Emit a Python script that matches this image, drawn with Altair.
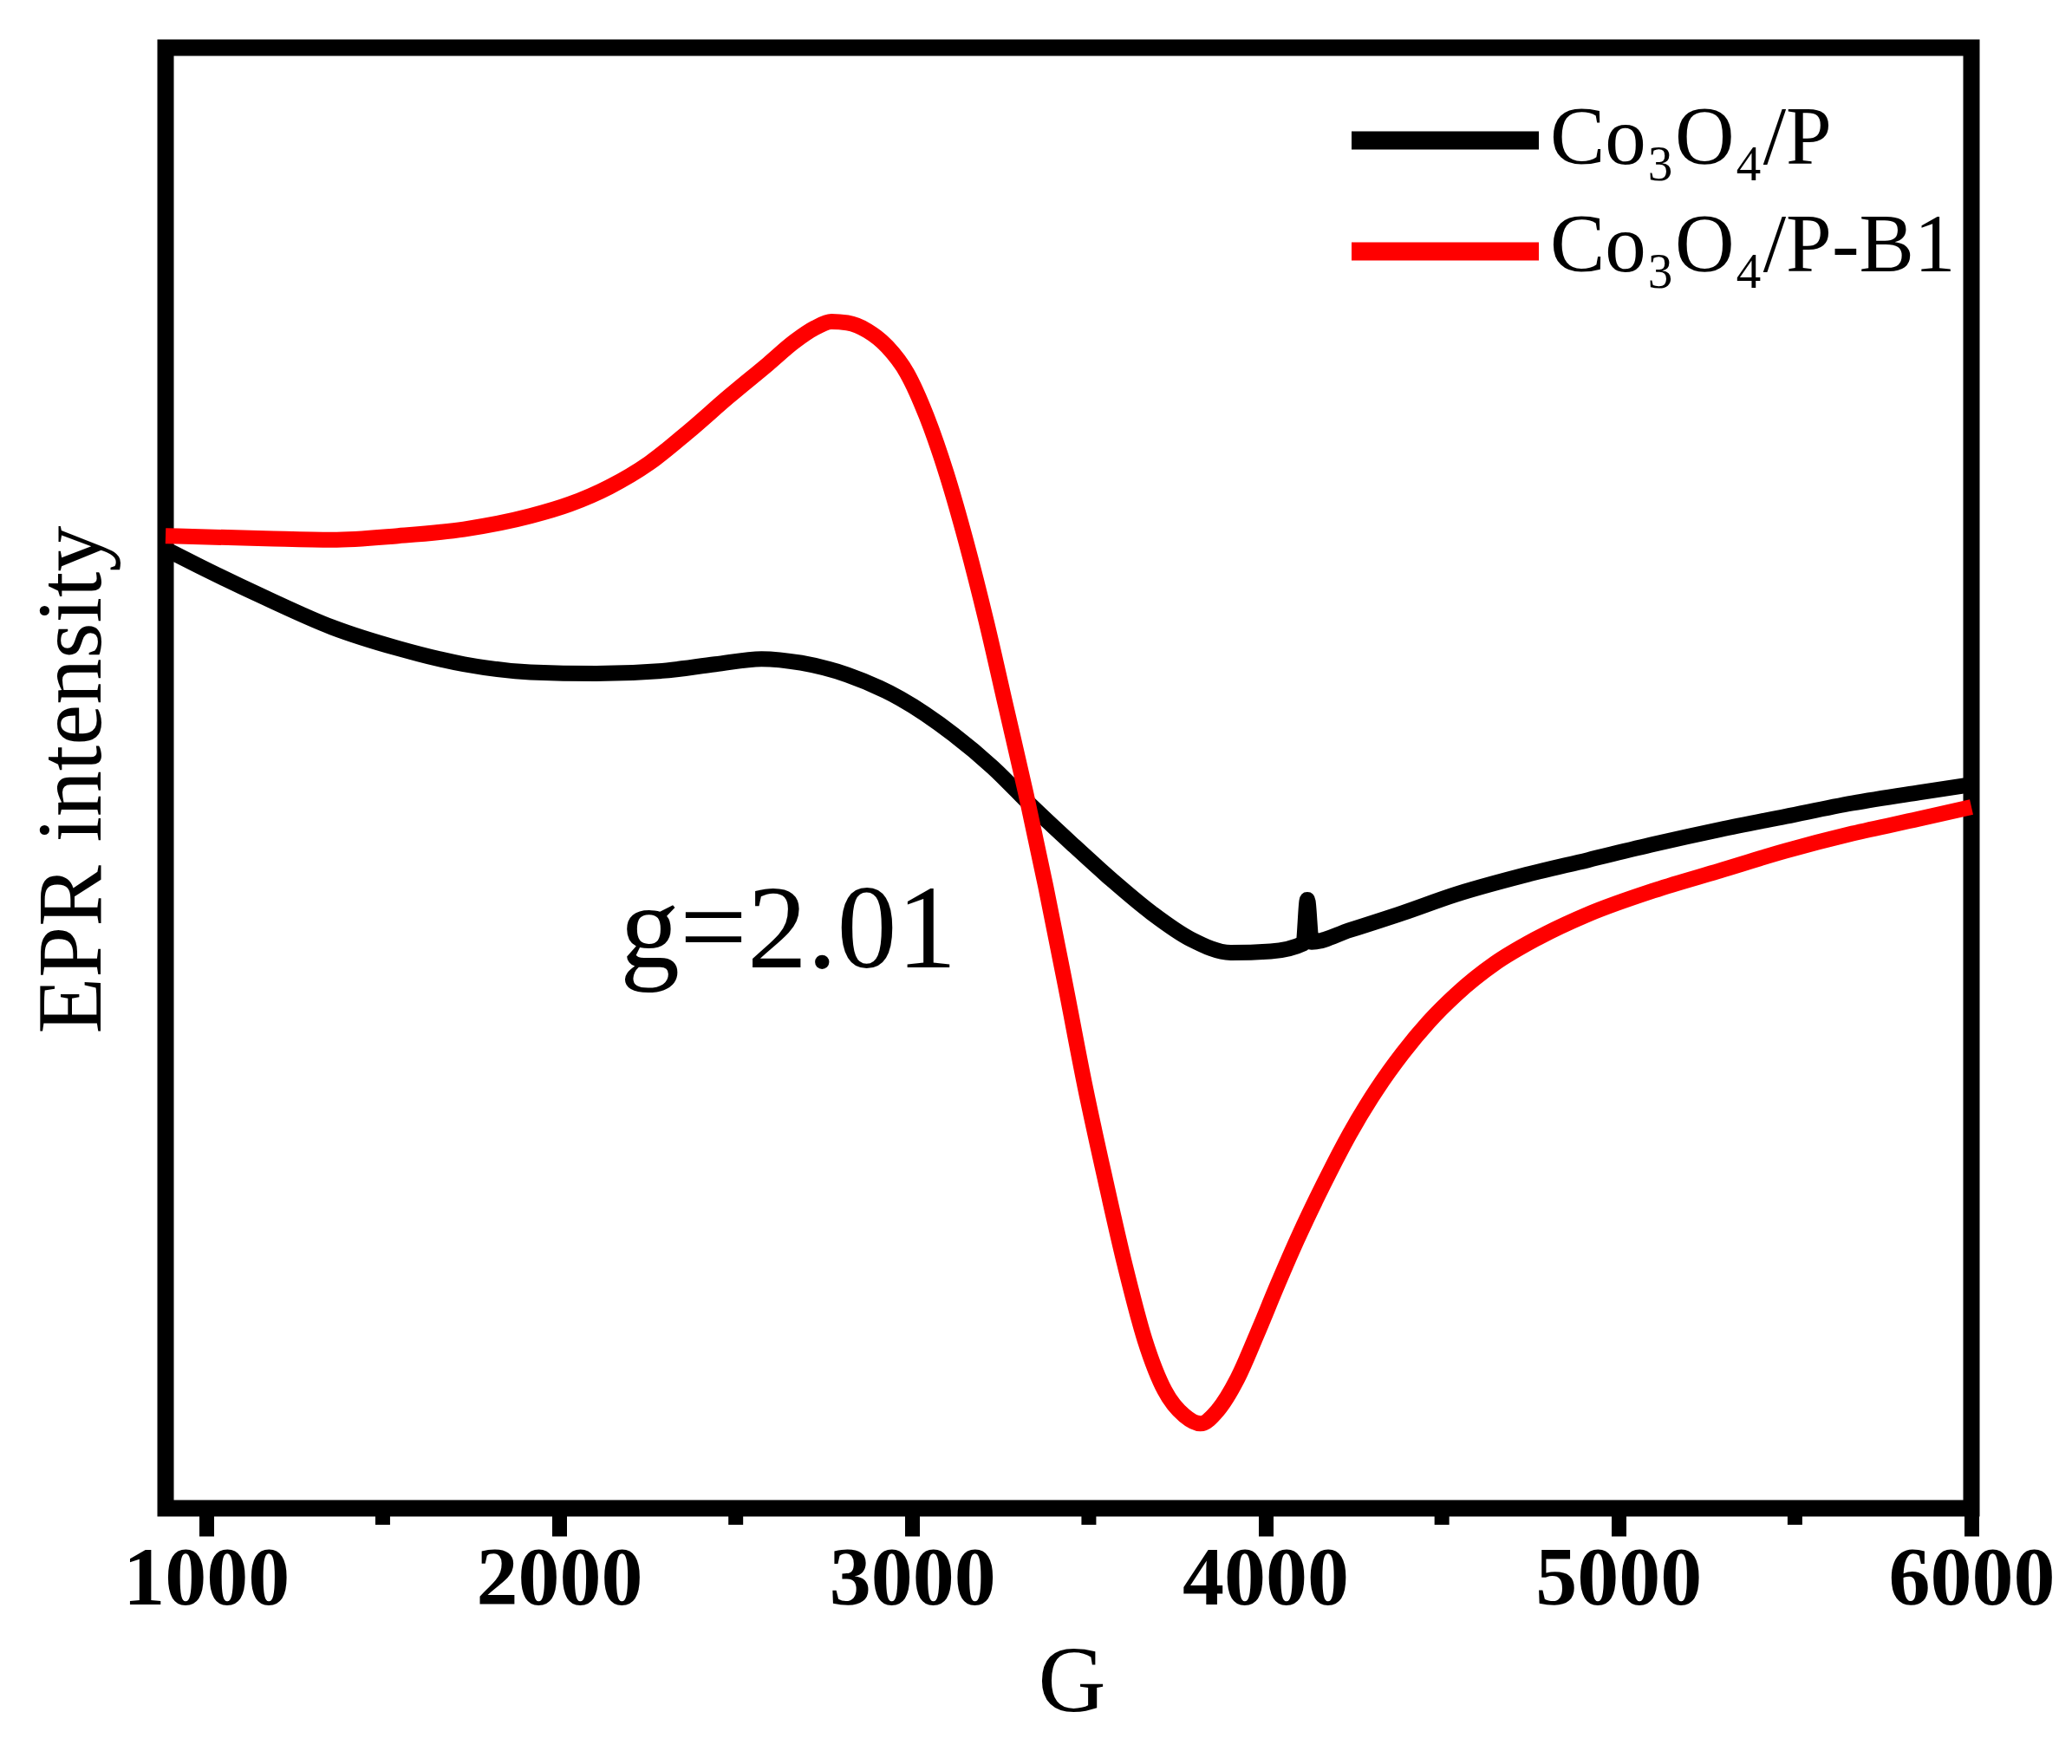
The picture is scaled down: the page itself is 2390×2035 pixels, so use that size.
import altair as alt
import pandas as pd

# ---------------- data ----------------
series_names = ["Co₃O₄/P", "Co₃O₄/P-B1"]
series_colors = ["#000000", "#ff0000"]

# Co3O4/P (black)
g_black = [885, 981, 1169, 1356, 1543, 1730, 1918, 2105, 2292, 2442, 2573, 2685,
           2816, 2966, 3116, 3228, 3341, 3453, 3565, 3678, 3790, 3902, 4015, 4108,
           4119, 4131, 4239, 4389, 4539, 4726, 4914, 5101, 5288, 5475, 5663, 5850, 6000]
i_black = [725, 712, 688, 666, 650, 638, 632, 631, 633, 638, 642, 639,
           630, 612, 585, 560, 530, 502, 475, 450, 430, 420, 421, 427,
           460, 428, 437, 450, 464, 478, 490, 502, 513, 523, 533, 541, 547]

# Co3O4/P-B1 (red)
g_red = [885, 1169, 1356, 1543, 1730, 1918, 2030, 2142, 2255, 2367, 2479, 2592,
         2667, 2723, 2771, 2816, 2873, 2929, 2985, 3041, 3097, 3153, 3210, 3266,
         3322, 3378, 3434, 3490, 3547, 3603, 3659, 3715, 3771, 3816, 3865, 3921,
         3977, 4033, 4090, 4165, 4239, 4314, 4389, 4464, 4539, 4651, 4764, 4914,
         5101, 5288, 5475, 5663, 5850, 6000]
i_red = [735, 733, 732, 735, 740, 750, 759, 772, 790, 814, 840, 865,
         882, 892, 897, 896, 890, 878, 858, 825, 782, 730, 670, 605,
         540, 470, 395, 318, 248, 183, 127, 89, 70, 64, 74, 98,
         132, 168, 203, 245, 283, 316, 344, 368, 388, 412, 430, 449,
         467, 482, 497, 510, 521, 530]

x_ticks = [1000, 2000, 3000, 4000, 5000, 6000]
x_minor = [1500, 2500, 3500, 4500, 5500]
x_domain = [885, 6000]
y_domain = [0, 1104]

annotation = ["g=2.01"]
annot_g = [2172]
annot_i = [409]

x_title = "G"
y_title = "EPR intensity"

# ---------------- layout ----------------
W, H = 2083, 1685
FONT = "Liberation Serif"

df = pd.concat([
    pd.DataFrame({"G": g_black, "I": i_black, "series": series_names[0]}),
    pd.DataFrame({"G": g_red, "I": i_red, "series": series_names[1]}),
], ignore_index=True)

x_axis = alt.Axis(values=x_ticks, tickSize=32, tickWidth=17, tickColor="black",
                  domain=False, grid=False, labelFont=FONT, labelFontSize=96,
                  labelFontWeight="bold", labelColor="black", labelPadding=2,
                  labelFlush=False, labelOverlap=False, labelLimit=0, format="d",
                  title=x_title, titleFont=FONT, titleFontSize=108,
                  titleFontWeight="normal", titleColor="black",
                  titleX=1045, titleY=233, titleAlign="center",
                  titleBaseline="alphabetic")
y_axis = alt.Axis(labels=False, ticks=False, domain=False, grid=False,
                  title=y_title, titleFont=FONT, titleFontSize=106,
                  titleFontWeight="normal", titleColor="black", titleAngle=270,
                  titleX=-76, titleY=844, titleAlign="center",
                  titleBaseline="alphabetic", titleLimit=0)

lines = alt.Chart(df).mark_line(strokeWidth=18, interpolate="monotone").encode(
    x=alt.X("G:Q", scale=alt.Scale(domain=x_domain, nice=False, zero=False), axis=x_axis),
    y=alt.Y("I:Q", scale=alt.Scale(domain=y_domain, nice=False, zero=False), axis=y_axis),
    color=alt.Color("series:N", scale=alt.Scale(domain=series_names, range=series_colors),
                    legend=None),
)

minor = alt.Chart(pd.DataFrame({"G": x_minor})).mark_rule(color="black", strokeWidth=17).encode(
    x=alt.X("G:Q"),
    y=alt.value(H),
    y2=alt.value(H + 19),
)

annot = alt.Chart(pd.DataFrame({"G": annot_g, "I": annot_i, "t": annotation})).mark_text(
    align="left", baseline="alphabetic", font=FONT, fontSize=138, color="black"
).encode(x=alt.X("G:Q"), y=alt.Y("I:Q"), text="t:N")

legend_layers = []
leg_line_y = [107, 235]
leg_text_y = [134, 258]
for name, col, ly, ty in zip(series_names, series_colors, leg_line_y, leg_text_y):
    d = pd.DataFrame({"label": [name]})
    legend_layers.append(
        alt.Chart(d).mark_rule(color=col, strokeWidth=21).encode(
            x=alt.value(1368), x2=alt.value(1584), y=alt.value(ly))
    )
    legend_layers.append(
        alt.Chart(d).mark_text(align="left", baseline="alphabetic", font=FONT,
                               fontSize=95, color="black").encode(
            x=alt.value(1597), y=alt.value(ty), text="label:N")
    )

chart = alt.layer(lines, minor, annot, *legend_layers).properties(
    width=W, height=H,
    padding={"left": 191, "top": 55, "right": 116, "bottom": 295},
    autosize=alt.AutoSizeParams(type="none"),
    background="white",
).configure_view(stroke="black", strokeWidth=19)

chart.save("out.html", embed_options={"renderer": "svg", "actions": False})
